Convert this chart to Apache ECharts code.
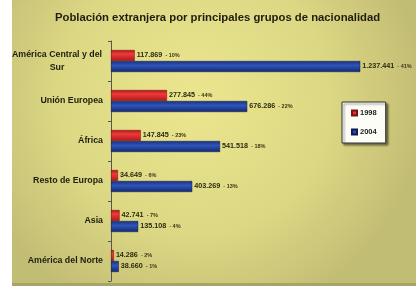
<!doctype html>
<html>
<head>
<meta charset="UTF-8">
<title>Población extranjera</title>
<script src="https://cdn.jsdelivr.net/npm/echarts@6/dist/echarts.min.js"></script>
<style>
  html, body { margin: 0; padding: 0; background: #fff; }
  #main { width: 416px; height: 292px; }
</style>
</head>
<body>
<div id="main"></div>
<script>
var categories = ['América Central y del\nSur', 'Unión Europea', 'África', 'Resto de Europa', 'Asia', 'América del Norte'];
var years = ['1998', '2004'];
var v1998 = [117869, 277845, 147845, 34649, 42741, 14286];
var v2004 = [1237441, 676286, 541518, 403269, 135108, 38660];
var p1998 = ['10%', '44%', '23%', '6%', '7%', '2%'];
var p2004 = ['41%', '22%', '18%', '13%', '4%', '1%'];

function fmtNum(n) {
    return String(n).replace(/\B(?=(\d{3})+(?!\d))/g, '.');
}

var myChart = echarts.init(document.getElementById('main'));

function barLabel(pcts) {
    return {
        show: true,
        position: 'right',
        distance: 2,
        formatter: function (p) {
            return '{n|' + fmtNum(p.value) + '}{p|  - ' + pcts[p.dataIndex] + '}';
        },
        rich: {
            n: { fontSize: 7.2, fontWeight: 'bold', color: '#2b2a10', fontFamily: 'Liberation Sans' },
            p: { fontSize: 5.5, fontWeight: 'bold', color: '#3a3818', fontFamily: 'Liberation Sans' }
        }
    };
}

var option = {
    animation: false,
    backgroundColor: '#fff',
    graphic: [
        {
            type: 'rect', z: -10,
            shape: { x: 12, y: 0, width: 404, height: 286 },
            style: {
                fill: new echarts.graphic.RadialGradient(0.45, 0.35, 0.8, [
                    { offset: 0, color: '#ebe68e' },
                    { offset: 0.6, color: '#dcd783' },
                    { offset: 1, color: '#c2bd74' }
                ])
            }
        },
        {
            type: 'rect', z: -9,
            shape: { x: 12, y: 283, width: 404, height: 3 },
            style: { fill: '#a8a468' }
        }
    ],
    title: {
        text: 'Población extranjera por principales grupos de nacionalidad',
        left: 50,
        top: 7,
        textStyle: { fontSize: 11.3, fontWeight: 'bold', color: '#1e1e10', fontFamily: 'Liberation Sans' }
    },
    legend: {
        orient: 'vertical',
        left: 342,
        top: 102,
        itemWidth: 5,
        itemHeight: 5,
        itemGap: 11,
        padding: [7, 9, 7, 9],
        backgroundColor: '#fdfdf8',
        borderColor: '#333',
        borderWidth: 1,
        shadowColor: 'rgba(0,0,0,0.45)',
        shadowOffsetX: 2,
        shadowOffsetY: 2,
        shadowBlur: 2,
        icon: 'rect',
        textStyle: { fontSize: 7.5, fontWeight: 'bold', color: '#222', fontFamily: 'Liberation Sans', padding: [0, 0, 0, -2] },
        data: years
    },
    grid: { left: 111, right: 23, top: 41, bottom: 11, containLabel: false },
    xAxis: {
        type: 'value',
        min: 0,
        max: 1400000,
        show: false
    },
    yAxis: {
        type: 'category',
        inverse: true,
        data: categories,
        axisLine: { show: true, lineStyle: { color: '#555', width: 1 } },
        axisTick: { show: true, length: 3, lineStyle: { color: '#555' } },
        axisLabel: {
            margin: 8,
            fontSize: 8.8,
            fontWeight: 'bold',
            color: '#1e1e10',
            fontFamily: 'Liberation Sans',
            lineHeight: 13,
            formatter: function (v, i) {
                if (i === 0) return '{c|' + v + '}';
                return v;
            },
            rich: {
                c: { width: 92, align: 'center', fontSize: 8.8, fontWeight: 'bold', color: '#1e1e10', fontFamily: 'Liberation Sans', lineHeight: 13 }
            }
        }
    },
    series: [
        {
            name: years[0],
            type: 'bar',
            data: v1998,
            barWidth: 11,
            barGap: '0%',
            itemStyle: {
                color: new echarts.graphic.LinearGradient(0, 0, 0, 1, [
                    { offset: 0, color: '#a81818' },
                    { offset: 0.35, color: '#f03a3a' },
                    { offset: 1, color: '#b01818' }
                ]),
                borderColor: '#7a1010',
                borderWidth: 0.5
            },
            label: barLabel(p1998)
        },
        {
            name: years[1],
            type: 'bar',
            data: v2004,
            barWidth: 11,
            barGap: '0%',
            itemStyle: {
                color: new echarts.graphic.LinearGradient(0, 0, 0, 1, [
                    { offset: 0, color: '#1a2f80' },
                    { offset: 0.4, color: '#2e55b8' },
                    { offset: 1, color: '#142870' }
                ]),
                borderColor: '#0e1d55',
                borderWidth: 0.5
            },
            label: barLabel(p2004)
        }
    ]
};

myChart.setOption(option);
</script>
</body>
</html>
